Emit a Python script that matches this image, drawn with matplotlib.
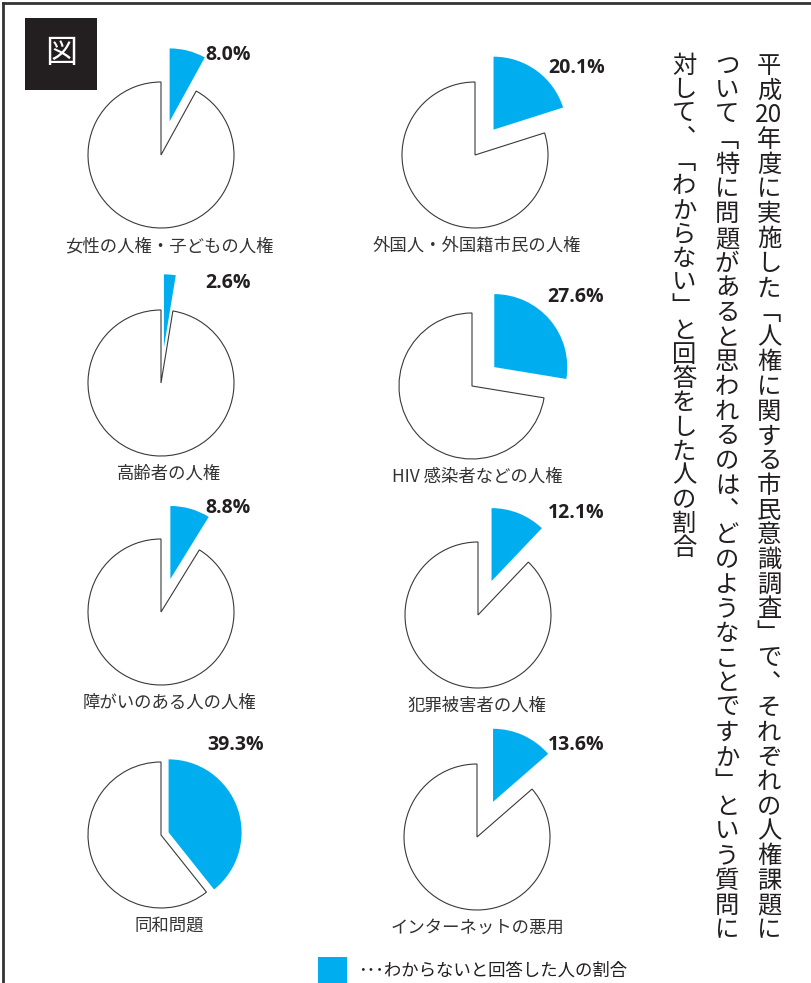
import matplotlib
matplotlib.use("Agg")
import matplotlib.pyplot as plt
from matplotlib.lines import Line2D
from matplotlib.patches import Rectangle

plt.rcParams['font.family'] = ['Noto Sans CJK JP', 'DejaVu Sans']

# data
categories = [
    "女性の人権・子どもの人権",
    "外国人・外国籍市民の人権",
    "高齢者の人権",
    "HIV 感染者などの人権",
    "障がいのある人の人権",
    "犯罪被害者の人権",
    "同和問題",
    "インターネットの悪用",
]
unknown_pct = [8.0, 20.1, 2.6, 27.6, 8.8, 12.1, 39.3, 13.6]

title_cols = [
    ["平", "成", "20", "年", "度", "に", "実", "施", "し", "た", "﹁", "人", "権", "に", "関", "す", "る",
     "市", "民", "意", "識", "調", "査", "﹂", "で", "︑", "そ", "れ", "ぞ", "れ", "の", "人", "権", "課", "題", "に"],
    list("ついて﹁特に問題があると思われるのは︑どのようなことですか﹂という質問に"),
    list("対して︑﹁わからない﹂と回答をした人の割合"),
]
legend_text = "･･･わからないと回答した人の割合"

# layout (pixels)
W, H = 811, 983
BLUE = "#00aeef"
centers = [(161, 155), (475, 155), (161, 383), (472, 386),
           (161, 612), (478, 615), (161, 835), (477, 837)]
label_x = [169, 477]
explode_amt = [0.475, 0.43, 0.49, 0.40, 0.47, 0.5, 0.11, 0.53]
pct_offset = [(44, -100), (73, -87), (44, -100), (75, -89),
              (44, -104), (70, -102), (46, -90), (71, -92)]
R = 73


def Y(py):
    return H - py


fig = plt.figure(figsize=(W / 100, H / 100), dpi=100)
ax = fig.add_axes([0, 0, 1, 1])

for i, (name, p) in enumerate(zip(categories, unknown_pct)):
    cx, cy = centers[i]
    # explode is in data units, so scale by the radius
    wedges, _ = ax.pie([p, 100 - p], center=(cx, Y(cy)), radius=R,
                       startangle=90, counterclock=False,
                       explode=[explode_amt[i] * R, 0], frame=True)
    wedges[0].set_facecolor(BLUE)
    wedges[0].set_edgecolor("none")
    wedges[1].set_facecolor("white")
    wedges[1].set_edgecolor("#3a3a3a")
    wedges[1].set_linewidth(0.8)
    dx, dy = pct_offset[i]
    ax.text(cx + dx, Y(cy + dy), f"{p:.1f}%", family="Open Sans", fontweight="bold",
            fontsize=14, color="#231f20", ha="left", va="center")
    ax.text(label_x[i % 2], Y(cy + 91), name, fontsize=12.5, color="#333333",
            ha="center", va="center")

# vertical title on the right
col_x = [769, 727, 684]
col_step = [24.7, 24.7, 24.1]
for x, chars, step in zip(col_x, title_cols, col_step):
    for j, ch in enumerate(chars):
        ax.text(x, Y(66 + j * step), ch, fontsize=17.5, color="#231f20",
                ha="center", va="center")

# black "図" box
ax.add_patch(Rectangle((25, Y(90)), 72, 72, facecolor="#231f20", edgecolor="none"))
ax.text(61, Y(53), "図", fontsize=23, color="white", ha="center", va="center")

# legend
ax.add_patch(Rectangle((318, Y(985)), 29, 28, facecolor=BLUE, edgecolor="none"))
ax.text(358, Y(971), legend_text, fontsize=12.5, color="#231f20", ha="left", va="center")

# frame lines
ax.add_line(Line2D([3, W], [Y(3), Y(3)], color="#333333", lw=2))
ax.add_line(Line2D([3, 3], [0, Y(3)], color="#333333", lw=2))

ax.set_xlim(0, W)
ax.set_ylim(0, H)
ax.set_aspect("auto")
ax.axis("off")

fig.savefig("out.png", dpi=100)
